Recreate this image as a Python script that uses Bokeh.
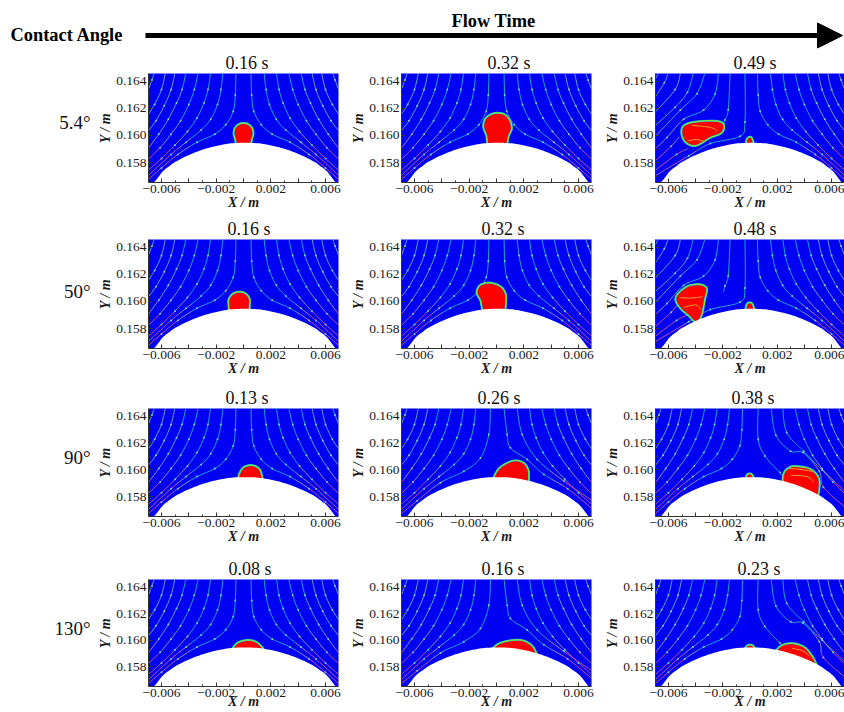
from bokeh.embed import file_html
from bokeh.resources import INLINE
from bokeh.plotting import figure
from bokeh.layouts import column, row
from bokeh.models import Label, FixedTicker, Arrow, NormalHead, Range1d, Title

SERIF = "Liberation Serif"
BLUE = "#0000f2"

# ---------- values (x in mm, y in mm) ----------
ROW_LABELS = ["5.4°", "50°", "90°", "130°"]
TIMES = [["0.16 s", "0.32 s", "0.49 s"],
         ["0.16 s", "0.32 s", "0.48 s"],
         ["0.13 s", "0.26 s", "0.38 s"],
         ["0.08 s", "0.16 s", "0.23 s"]]
X_TICKS = [-0.006, -0.004, -0.002, 0.0, 0.002, 0.004, 0.006]
X_TICK_TEXT = ["−0.006", "", "−0.002", "", "0.002", "", "0.006"]
X_MINOR = [-0.005, -0.003, -0.001, 0.001, 0.003, 0.005]
Y_TICKS = [0.158, 0.160, 0.162, 0.164]
Y_TICK_TEXT = ["0.158", "0.160", "0.162", "0.164"]
Y_MINOR = [0.157, 0.159, 0.161, 0.163]

SURFACE = [(-8, 150), (-8, 154.5), (-7.0, 156.0), (-6.4, 156.7), (-5.9, 157.35), (-5.4, 157.75), (-4.9, 158.1),
           (-3.9, 158.6), (-2.9, 158.98), (-1.9, 159.25), (-0.9, 159.42), (0.1, 159.46), (1.1, 159.42),
           (2.1, 159.25), (3.1, 158.98), (4.1, 158.6), (5.1, 158.1), (5.6, 157.75), (6.1, 157.35), (6.6, 156.7),
           (7.1, 156.0), (8.1, 154.5), (8.1, 150)]

BASE_LINES = [
    [(-0.55, 164.7), (-0.6, 163), (-0.75, 161.8), (-1.3, 160.8), (-2.1, 160.1), (-3.4, 159.5), (-4.8, 158.6), (-6.0, 157.6), (-7.0, 156.7)],
    [(-1.5, 164.7), (-1.65, 163.4), (-1.9, 162.3), (-2.4, 161.2), (-3.1, 160.4), (-4.2, 159.5), (-5.3, 158.6), (-7.0, 157.0)],
    [(-2.4, 164.7), (-2.6, 163.4), (-2.9, 162.4), (-3.4, 161.3), (-4.1, 160.3), (-5.0, 159.3), (-6.0, 158.3), (-7.0, 157.4)],
    [(-3.3, 164.7), (-3.6, 163.4), (-4.0, 162.3), (-4.6, 161.1), (-5.3, 160.1), (-6.1, 159.1), (-7.0, 158.2)],
    [(-4.2, 164.7), (-4.5, 163.4), (-4.9, 162.4), (-5.5, 161.2), (-6.2, 160.1), (-7.0, 159.0)],
    [(-5.0, 164.7), (-5.3, 163.4), (-5.8, 162.2), (-6.4, 161.1), (-7.0, 160.3)],
    [(-5.7, 164.7), (-6.0, 163.4), (-6.5, 162.3), (-7.0, 161.5)],
    [(-6.5, 164.7), (-6.7, 164.1), (-7.0, 163.3)],
]

# streamlines bent by a droplet sitting on the left of the wall (third column, first two rows)
LEFT_BENT = [
    [(-0.37, 164.7), (-0.37, 161.0), (-0.73, 159.95), (-2.93, 159.4), (-4.5, 158.5), (-7.0, 157.0)],
    [(-1.46, 164.7), (-1.6, 161.9), (-1.85, 161.15), (-1.95, 160.7)],
    [(-2.32, 164.7), (-2.56, 163.1), (-3.41, 161.88), (-4.88, 161.2), (-6.1, 159.85), (-7.0, 158.99)],
    [(-3.29, 164.7), (-3.9, 163.1), (-5.12, 161.88), (-7.0, 159.9)],
    [(-4.15, 164.7), (-4.6, 163.2), (-5.5, 162.1), (-7.0, 160.7)],
    [(-5.1, 164.7), (-5.5, 163.4), (-7.0, 161.7)],
    [(-6.0, 164.7), (-6.3, 163.9), (-7.0, 162.8)],
    [(-6.7, 164.7), (-7.0, 164.1)],
    [(-5.2, 159.9), (-5.8, 159.2), (-7.0, 158.1)],
    [(-4.6, 159.0), (-5.4, 158.6), (-7.0, 157.4)],
]
# streamlines bent by a droplet near the centre-right (second column, last two rows)
RIGHT_NEAR = [
    [(0.54, 164.7), (0.78, 162.64), (1.02, 161.65), (2.24, 160.78), (3.46, 159.67), (5.2, 158.6), (7.0, 157.1)],
    [(1.5, 164.7), (1.88, 162.64), (2.98, 160.78), (4.93, 159.17), (7.0, 157.7)],
]
LEFT_NEAR = [
    [(-0.44, 164.7), (-0.56, 162.64), (-1.17, 160.9), (-2.39, 159.9), (-4.1, 159.05), (-5.8, 157.7), (-7.0, 156.7)],
]
# streamlines bent by a droplet further right (third column, last two rows)
RIGHT_FAR = [
    [(0.6, 164.7), (0.6, 162.3), (1.1, 161.04), (2.2, 159.8), (2.5, 159.4)],
    [(1.55, 164.7), (1.9, 162.6), (3.0, 161.4), (3.9, 161.3), (5.1, 159.9), (5.4, 158.7), (7.0, 157.2)],
    [(2.4, 164.7), (2.7, 162.8), (3.95, 161.4), (5.3, 160.0), (7.0, 158.4)],
]

DROP_11 = [(0, 160.93), (0.52, 160.72), (0.73, 160.2), (0.6, 159.65), (0.45, 159.0), (-0.45, 159.0), (-0.6, 159.65), (-0.73, 160.2), (-0.52, 160.72)]
DROP_12 = [(0.1, 161.68), (0.66, 161.53), (1.02, 161.04), (1.12, 160.49), (0.9, 159.95), (0.6, 159.0), (-0.5, 159.0), (-0.75, 160), (-0.97, 160.62), (-0.85, 161.2), (-0.44, 161.56)]
DROP_13 = [(-5.05, 160.31), (-4.88, 160.73), (-4.27, 160.98), (-2.93, 161.1), (-2.07, 160.98), (-1.9, 160.56), (-2.15, 160.14), (-2.93, 159.82), (-3.9, 159.26), (-4.51, 159.33), (-4.93, 159.75)]
DROP_21 = [(-0.3, 160.73), (0.15, 160.6), (0.45, 160.2), (0.45, 159.7), (0.35, 159.0), (-0.9, 159.0), (-1.1, 159.8), (-1.05, 160.25), (-0.75, 160.6)]
DROP_22 = [(-0.56, 161.4), (0.17, 161.2), (0.59, 160.78), (0.71, 160.16), (0.45, 159.0), (-0.85, 159.0), (-1.17, 160.04), (-1.46, 160.65), (-1.22, 161.2)]
DROP_23 = [(-5.49, 160.15), (-5.17, 160.72), (-4.51, 161.17), (-3.66, 161.27), (-3.17, 160.97), (-3.29, 160.23), (-3.59, 158.86), (-4.02, 158.5), (-4.56, 158.98), (-5.12, 159.48)]
DROP_31 = [(0.5, 160.36), (0.95, 160.25), (1.25, 159.95), (1.39, 159.4), (1.5, 158.9), (-0.5, 158.9), (-0.39, 159.4), (-0.3, 159.75), (0, 160.2)]
DROP_32 = [(-0.2, 159.47), (0.17, 160.11), (0.78, 160.53), (1.39, 160.71), (2.0, 160.53), (2.32, 160.04), (2.37, 159.55), (2.24, 158.9), (1.0, 158.9), (-0.3, 159.1)]
DROP_33 = [(2.49, 158.9), (2.49, 159.78), (2.93, 160.21), (3.41, 160.28), (4.39, 160.1), (5.0, 159.54), (5.12, 158.8), (4.83, 157.9), (3.5, 158.0)]
DROP_41 = [(-0.78, 159.43), (-0.37, 159.86), (0.37, 160.03), (0.98, 159.86), (1.46, 159.36), (1.6, 158.9), (-0.9, 158.9)]
DROP_42 = [(-0.15, 159.53), (0.41, 159.86), (1.27, 160.03), (2.0, 159.98), (2.6, 159.61), (2.93, 159.04), (3.1, 158.5), (1.0, 158.9), (-0.3, 159.1)]
DROP_43 = [(2.02, 159.36), (2.44, 159.68), (3.17, 159.78), (4.02, 159.48), (4.63, 158.74), (4.93, 158.07), (5.0, 157.6), (3.4, 158.1), (1.9, 159.0)]

SMALL_13 = [(-0.28, 159.2), (-0.25, 159.7), (-0.05, 159.9), (0.15, 159.8), (0.28, 159.2)]
SMALL_23 = [(-0.3, 159.2), (-0.27, 159.75), (-0.05, 159.93), (0.2, 159.8), (0.3, 159.2)]
SMALL_33 = [(-0.28, 159.2), (-0.25, 159.6), (-0.03, 159.74), (0.2, 159.6), (0.28, 159.2)]
SMALL_43 = [(-0.32, 159.2), (-0.28, 159.55), (0, 159.68), (0.28, 159.55), (0.32, 159.2)]

INNER_13 = [[(-4.27, 160.75), (-2.93, 160.6), (-2.4, 160.35)], [(-4.6, 159.6), (-3.95, 159.7), (-3.3, 159.55)]]
INNER_23 = [[(-5.2, 160.3), (-4.4, 160.25), (-3.5, 160.35)], [(-4.9, 159.55), (-4.0, 159.75), (-3.6, 159.4)]]
INNER_33 = [[(2.9, 160.1), (3.6, 160.05), (4.6, 159.9)], [(3.0, 159.6), (4.2, 159.5), (4.7, 159.1)]]
INNER_43 = [[(3.1, 159.4), (3.9, 159.2), (4.4, 158.8)]]

DROPS = [[DROP_11, DROP_12, DROP_13], [DROP_21, DROP_22, DROP_23], [DROP_31, DROP_32, DROP_33], [DROP_41, DROP_42, DROP_43]]
SMALLS = [[None, None, SMALL_13], [None, None, SMALL_23], [None, None, SMALL_33], [None, None, SMALL_43]]
INNERS = [[[], [], INNER_13], [[], [], INNER_23], [[], [], INNER_33], [[], [], INNER_43]]


def mirrored(lines):
    return [[(-x, y) for x, y in ln] for ln in lines]


def lines_for(r, c):
    left, right = BASE_LINES, mirrored(BASE_LINES)
    if c == 2 and r in (0, 1):
        left = LEFT_BENT
    if c == 2 and r in (2, 3):
        right = RIGHT_FAR + mirrored(BASE_LINES[3:])
    if c == 1 and r in (2, 3):
        left = LEFT_NEAR + BASE_LINES[1:]
        right = RIGHT_NEAR + mirrored(BASE_LINES[2:])
    return left + right


# ---------- layout (pixels) ----------
LABEL_W = 93
COLS = [dict(w=253, l=55, r=8), dict(w=253, l=55, r=8), dict(w=245, l=56, r=0)]
ROWS = [dict(h=166, t=23, b=34, ly=75), dict(h=166, t=23, b=34, ly=79),
        dict(h=168, t=26, b=34, ly=76), dict(h=161, t=29, b=23, ly=74)]
TITLE_LEFT = [[77, 86, 78], [79, 80, 78], [77, 76, 76], [80, 80, 82]]


def curve(points, closed=False, n=6):
    """Draw a smooth curve through the read points (Catmull-Rom)."""
    pts = list(points)
    L = len(pts)
    out = []
    segs = L if closed else L - 1
    for i in range(segs):
        if closed:
            p0, p1, p2, p3 = pts[(i - 1) % L], pts[i], pts[(i + 1) % L], pts[(i + 2) % L]
        else:
            p0, p1, p2, p3 = pts[max(i - 1, 0)], pts[i], pts[i + 1], pts[min(i + 2, L - 1)]
        for k in range(n):
            t = k / n
            out.append(tuple(
                0.5 * (2 * p1[d] + (p2[d] - p0[d]) * t + (2 * p0[d] - 5 * p1[d] + 4 * p2[d] - p3[d]) * t * t
                       + (3 * p1[d] - p0[d] - 3 * p2[d] + p3[d]) * t ** 3) for d in (0, 1)))
    out.append(pts[0] if closed else pts[-1])
    return out


def m(pts):
    return [p[0] * 1e-3 for p in pts], [p[1] * 1e-3 for p in pts]


def stream_colour(x, y):
    if abs(x) > 4.6 and y < 159.3:
        return "#e0608f"
    if abs(x) > 3.8 and y < 160.6:
        return "#b0a8b0"
    if abs(x) > 4.5:
        return "#70c0c0"
    return "#28bcd0"


def draw_stream(p, line):
    fine = curve(line)
    xs, ys, cols = [], [], []
    for a, b in zip(fine[:-1], fine[1:]):
        xs.append([a[0] * 1e-3, b[0] * 1e-3])
        ys.append([a[1] * 1e-3, b[1] * 1e-3])
        cols.append(stream_colour(a[0], a[1]))
    p.multi_line(xs, ys, line_color=cols, line_width=1, line_alpha=0.85)
    mx, my = m(line[1:-1])
    p.scatter(mx, my, size=2, color="#70d8b0", line_width=0)


def draw_drop(p, outline):
    x, y = m(curve(outline, closed=True))
    p.patch(x, y, fill_color="#ff0000", line_color="#00c0f0", line_width=2, line_join="round")
    p.line(x, y, line_color="#30e070", line_width=1.2, line_join="round")
    p.line(x, y, line_color="#f0e000", line_width=0.5, line_join="round")


def panel(r, c):
    C, R = COLS[c], ROWS[r]
    p = figure(width=C["w"], height=R["h"], toolbar_location=None, output_backend="svg",
               x_range=Range1d(-0.00695, 0.00695), y_range=Range1d(0.15652, 0.16459),
               min_border_left=C["l"], min_border_right=C["r"], min_border_top=R["t"], min_border_bottom=R["b"],
               background_fill_color=BLUE, border_fill_color="#ffffff", outline_line_color=None)
    p.grid.visible = False

    for ln in lines_for(r, c):
        draw_stream(p, ln)
    draw_drop(p, DROPS[r][c])
    if SMALLS[r][c]:
        draw_drop(p, SMALLS[r][c])
    for ln in INNERS[r][c]:
        x, y = m(curve(ln))
        p.line(x, y, line_color="#f0a030", line_width=1)
    sx, sy = m(curve(SURFACE, closed=True))
    p.patch(sx, sy, fill_color="#ffffff", line_color=None)

    xa, ya = p.xaxis[0], p.yaxis[0]
    xa.ticker = FixedTicker(ticks=X_TICKS, minor_ticks=X_MINOR)
    ya.ticker = FixedTicker(ticks=Y_TICKS, minor_ticks=Y_MINOR)
    xa.major_label_overrides = dict(zip(X_TICKS, X_TICK_TEXT))
    ya.major_label_overrides = dict(zip(Y_TICKS, Y_TICK_TEXT))
    for a in (xa, ya):
        a.major_label_text_font = SERIF
        a.major_label_text_font_size = "13.5px"
        a.major_label_text_color = "#1a1a1a"
        a.major_label_standoff = 2
        a.major_tick_in, a.major_tick_out = 4, 0
        a.minor_tick_in, a.minor_tick_out = 2, 0
        a.axis_line_color = "#333333"
        a.major_tick_line_color = "#333333"
        a.minor_tick_line_color = "#333333"
        a.axis_label_text_font = SERIF
        a.axis_label_text_font_size = "14px"
        a.axis_label_text_font_style = "bold italic"
        a.axis_label_text_color = "#1a1a1a"
    ya.axis_label = "Y / m"
    ya.axis_label_standoff = 0
    xa.axis_label = "X / m"
    xa.axis_label_standoff = -6 if r == 3 else -1

    p.add_layout(Title(text=TIMES[r][c], align="left", offset=TITLE_LEFT[r][c], standoff=1, text_font=SERIF,
                       text_font_size="18px", text_font_style="normal", text_color="#111111"), "above")
    return p


def row_label(r):
    R = ROWS[r]
    f = figure(width=LABEL_W, height=R["h"], toolbar_location=None, output_backend="svg",
               x_range=Range1d(0, LABEL_W), y_range=Range1d(R["h"], 0), min_border=0, outline_line_color=None,
               x_axis_type=None, y_axis_type=None)
    f.grid.visible = False
    f.add_layout(Label(x=90, y=R["ly"], text=ROW_LABELS[r], text_font=SERIF, text_font_size="19px",
                       text_color="#111111", text_align="right", text_baseline="middle"))
    return f


# ---------- header ----------
head = figure(width=844, height=50, toolbar_location=None, output_backend="svg",
              x_range=Range1d(0, 844), y_range=Range1d(50, 0), min_border=0, outline_line_color=None,
              x_axis_type=None, y_axis_type=None)
head.grid.visible = False
head.add_layout(Label(x=10, y=34, text="Contact Angle", text_font=SERIF, text_font_size="18.4px", text_font_style="bold",
                      text_color="#000000", text_baseline="middle"))
head.add_layout(Label(x=493, y=20, text="Flow Time", text_font=SERIF, text_font_size="18.4px", text_font_style="bold",
                      text_color="#000000", text_align="center", text_baseline="middle"))
head.add_layout(Arrow(end=NormalHead(size=25, fill_color="#000000", line_color="#000000"),
                      x_start=145, y_start=35, x_end=842, y_end=35, line_color="#000000", line_width=5))

rows = [row(row_label(r), *[panel(r, c) for c in range(3)], spacing=0) for r in range(4)]
page = column(head, *rows, spacing=0)
open("out.html", "w").write(file_html(page, INLINE))
